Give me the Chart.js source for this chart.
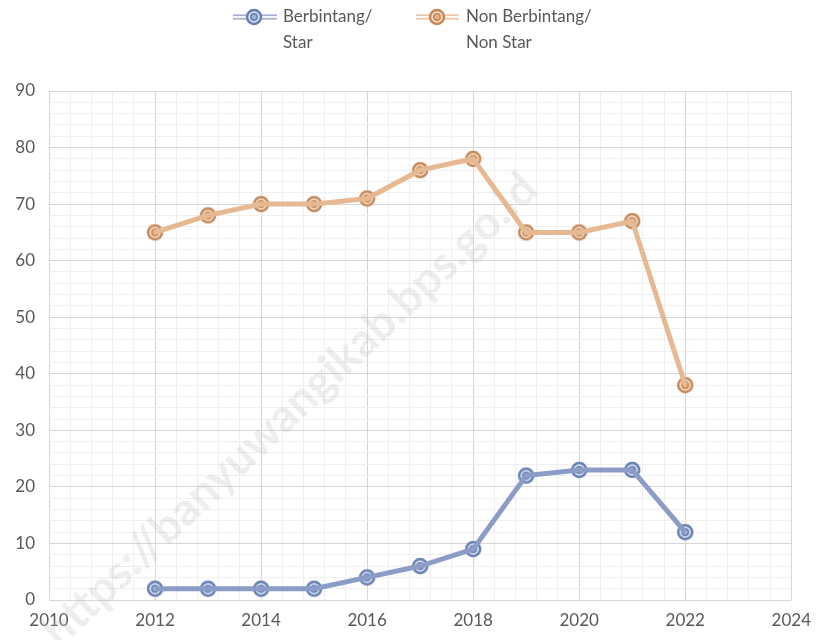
<!DOCTYPE html>
<html>
<head>
<meta charset="utf-8">
<script src="https://cdn.jsdelivr.net/npm/chart.js@4/dist/chart.umd.min.js"></script>
<style>
  html, body { margin: 0; padding: 0; background: #fff; }
  #wrap { width: 821px; height: 640px; }
</style>
</head>
<body>
<div id="wrap"><canvas id="grafik"></canvas></div>
<script>
// data
const tahun = [2012, 2013, 2014, 2015, 2016, 2017, 2018, 2019, 2020, 2021, 2022];
const berbintang = [2, 2, 2, 2, 4, 6, 9, 22, 23, 23, 12];
const nonBerbintang = [65, 68, 70, 70, 71, 76, 78, 65, 65, 67, 38];
const namaSeri = [['Berbintang/', 'Star'], ['Non Berbintang/', 'Non Star']];

const FONT = 'Lato, "Open Sans", sans-serif';
const teks = '#595959';

// warna per seri
const warna = {
  biru: { luar: '#8b9dc6', dalam: '#f3f5fa', cincin: '#6780b3', isi: '#d9e0f0', tengah: '#9fb2d8' },
  oranye: { luar: '#e6b993', dalam: '#fef6ef', cincin: '#c48b5e', isi: '#f8dcc4', tengah: '#eeb083' }
};

// marker lingkaran ganda
function buatMarker(w) {
  const c = document.createElement('canvas');
  c.width = 20; c.height = 20;
  const g = c.getContext('2d');
  g.fillStyle = w.isi;
  g.beginPath(); g.arc(10, 10, 8, 0, Math.PI * 2); g.fill();
  g.strokeStyle = w.cincin; g.lineWidth = 2.5;
  g.beginPath(); g.arc(10, 10, 7, 0, Math.PI * 2); g.stroke();
  g.fillStyle = w.tengah;
  g.beginPath(); g.arc(10, 10, 3.2, 0, Math.PI * 2); g.fill();
  g.lineWidth = 1.5;
  g.beginPath(); g.arc(10, 10, 3.2, 0, Math.PI * 2); g.stroke();
  return c;
}
const markerBiru = buatMarker(warna.biru);
const markerOranye = buatMarker(warna.oranye);

function titik(nilai) {
  return tahun.map((t, i) => ({ x: t, y: nilai[i] }));
}

function seri(nilai, w, marker) {
  return [
    { data: titik(nilai), borderColor: w.luar, borderWidth: 5, pointRadius: 0, pointHoverRadius: 0, tension: 0 },
    { data: titik(nilai), borderColor: w.dalam, borderWidth: 2.6, pointStyle: marker, pointRadius: 10, tension: 0 }
  ];
}

const hampirBulat = v => Math.abs(v - Math.round(v)) < 1e-6;

// legenda & watermark
const legendaPlugin = {
  id: 'legenda',
  afterDraw(chart) {
    const g = chart.ctx;
    const item = [
      { x0: 233, x1: 277, mx: 254, tx: 283, w: warna.biru, m: markerBiru, label: namaSeri[0] },
      { x0: 416, x1: 459, mx: 437, tx: 466, w: warna.oranye, m: markerOranye, label: namaSeri[1] }
    ];
    g.save();
    item.forEach(it => {
      g.strokeStyle = it.w.luar; g.lineWidth = 5;
      g.beginPath(); g.moveTo(it.x0, 17); g.lineTo(it.x1, 17); g.stroke();
      g.strokeStyle = it.w.dalam; g.lineWidth = 2.6;
      g.beginPath(); g.moveTo(it.x0, 17); g.lineTo(it.x1, 17); g.stroke();
      g.drawImage(it.m, it.mx - 10, 7);
      g.fillStyle = teks;
      g.font = '17px ' + FONT;
      g.textBaseline = 'middle';
      g.fillText(it.label[0], it.tx, 17);
      g.fillText(it.label[1], it.tx, 43);
    });
    g.restore();
  },
  beforeDatasetsDraw(chart) {
    const g = chart.ctx;
    g.save();
    g.translate(290, 410);
    g.rotate(-0.76);
    g.fillStyle = 'rgba(195,195,195,0.28)';
    g.font = 'bold 46px ' + FONT;
    g.textAlign = 'center';
    g.textBaseline = 'middle';
    g.fillText('https://banyuwangikab.bps.go.id', 0, 0);
    g.restore();
  }
};

new Chart(document.getElementById('grafik'), {
  type: 'line',
  data: {
    datasets: [
      ...seri(berbintang, warna.biru, markerBiru),
      ...seri(nonBerbintang, warna.oranye, markerOranye)
    ]
  },
  options: {
    responsive: true,
    maintainAspectRatio: false,
    animation: false,
    layout: { padding: { top: 91, right: 29, left: 0, bottom: 0 } },
    plugins: {
      legend: { display: false },
      tooltip: { enabled: false }
    },
    scales: {
      x: {
        type: 'linear',
        min: 2010, max: 2024,
        afterFit: s => { s.height = 40; },
        border: { display: false },
        ticks: {
          stepSize: 0.4,
          autoSkip: false,
          maxRotation: 0,
          color: teks,
          font: { family: FONT, size: 17 },
          padding: 10,
          callback: v => (hampirBulat(v) && Math.round(v) % 2 === 0) ? String(Math.round(v)) : ''
        },
        grid: {
          drawTicks: false,
          color: c => (hampirBulat(c.tick.value) && Math.round(c.tick.value) % 2 === 0) ? '#d6d6d6' : '#efefef'
        }
      },
      y: {
        min: 0, max: 90,
        afterFit: s => { s.width = 49; },
        border: { display: false },
        ticks: {
          stepSize: 2,
          autoSkip: false,
          color: teks,
          font: { family: FONT, size: 17 },
          padding: 14,
          callback: v => (v % 10 === 0) ? String(v) : ''
        },
        grid: {
          drawTicks: false,
          color: c => (c.tick.value % 10 === 0) ? '#d6d6d6' : '#efefef'
        }
      }
    }
  },
  plugins: [legendaPlugin]
});
</script>
</body>
</html>
